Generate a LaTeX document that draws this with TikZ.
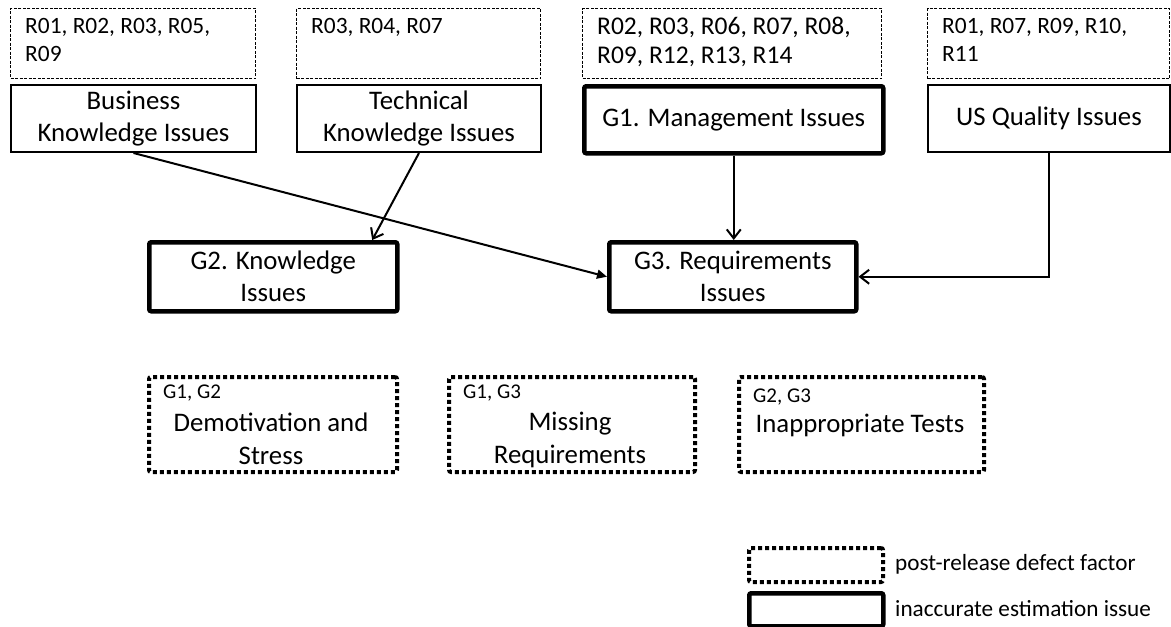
\documentclass[tikz,border=0pt]{standalone}
\usepackage{fontspec}
\setmainfont{Carlito}
\usetikzlibrary{arrows.meta}
\begin{document}
\begin{tikzpicture}[x=1pt,y=-1pt,
  rbox/.style={draw, line width=1pt, dash pattern=on 3pt off 1.5pt, anchor=north west, inner sep=0pt},
  rtext/.style={anchor=north west, align=left, font=\fontsize{23.4}{28}\selectfont, inner sep=0pt},
  fbox/.style={draw, line width=2pt, anchor=north west, align=center, font=\fontsize{26.8}{32}\selectfont, inner sep=0pt},
  gbox/.style={draw, line width=4.5pt, rounded corners=2pt, anchor=north west, align=center, font=\fontsize{26.8}{32}\selectfont, inner sep=0pt},
  pbox/.style={draw, line width=4pt, dash pattern=on 4pt off 3pt, rounded corners=2pt, anchor=north west, inner sep=0pt},
  ptext/.style={align=center, font=\fontsize{26.8}{33}\selectfont, inner sep=0pt},
  gtext/.style={anchor=west, font=\fontsize{21}{24}\selectfont, inner sep=0pt},
  ltext/.style={anchor=west, font=\fontsize{23.2}{28}\selectfont, inner sep=0pt},
  arr/.style={line width=2pt, -{Straight Barb[length=9pt,width=14pt,line width=2pt]}},
  arrf/.style={line width=2pt, -{Triangle[length=10pt,width=9pt]}}]
\useasboundingbox (0,0) rectangle (1171,627);

% top reference boxes
\node[rbox, minimum width=245pt, minimum height=70pt] (r1) at (10,8) {};
\node[rbox, minimum width=244pt, minimum height=70pt] (r2) at (296,8) {};
\node[rbox, minimum width=299pt, minimum height=70pt] (r3) at (582,8) {};
\node[rbox, minimum width=242pt, minimum height=70pt] (r4) at (927,8) {};
\node[rtext] (t1) at (25,18) {R01, R02, R03, R05,\\R09};
\node[rtext] (t2) at (311,18) {R03, R04, R07};
\node[rtext, font=\fontsize{25.5}{29}\selectfont] (t3) at (597,17) {R02, R03, R06, R07, R08,\\R09, R12, R13, R14};
\node[rtext] (t4) at (942,18) {R01, R07, R09, R10,\\R11};

% source boxes
\node[fbox, minimum width=245pt, minimum height=67pt] (bus) at (10,84) {Business\\Knowledge Issues};
\node[fbox, minimum width=244pt, minimum height=67pt] (tech) at (296,84) {Technical\\Knowledge Issues};
\node[gbox, minimum width=299pt, minimum height=67pt] (g1) at (582,84) {G1. Management Issues};
\node[fbox, minimum width=242pt, minimum height=67pt] (us) at (927,84) {US Quality Issues};

% groups
\node[gbox, minimum width=248pt, minimum height=69pt] (g2) at (147,240) {G2. Knowledge\\Issues};
\node[gbox, minimum width=247pt, minimum height=69pt] (g3) at (607,240) {G3. Requirements\\Issues};

% arrows
\draw[arrf] (bus.south) -- (g3.west);
\draw[arr] (tech.south) -- ([xshift=99pt]g2.north);
\draw[arr] (g1.south) -- (g1.south |- g3.north);
\draw[arr] (us.south) |- (g3.east);

% post-release defect factors
\node[pbox, minimum width=248pt, minimum height=95pt] (d1) at (147,375) {};
\node[pbox, minimum width=246pt, minimum height=95pt] (d2) at (447,375) {};
\node[pbox, minimum width=245pt, minimum height=95pt] (d3) at (737,375) {};
\node[gtext] (l1) at (163,393) {G1, G2};
\node[gtext] (l2) at (463,393) {G1, G3};
\node[gtext] (l3) at (753,397) {G2, G3};
\node[ptext] (m1) at (271,439) {Demotivation and\\Stress};
\node[ptext] (m2) at (570,440) {Missing\\Requirements};
\node[ptext] (m3) at (860,425) {Inappropriate Tests};

% legend
\node[pbox, minimum width=134pt, minimum height=34pt] (lg1) at (747,546) {};
\node[draw, line width=4.5pt, rounded corners=2pt, anchor=north west, inner sep=0pt, minimum width=134pt, minimum height=33pt] (lg2) at (747,591) {};
\node[ltext] (lt1) at (895,564) {post-release defect factor};
\node[ltext] (lt2) at (895,609) {inaccurate estimation issue};
\end{tikzpicture}
\end{document}
